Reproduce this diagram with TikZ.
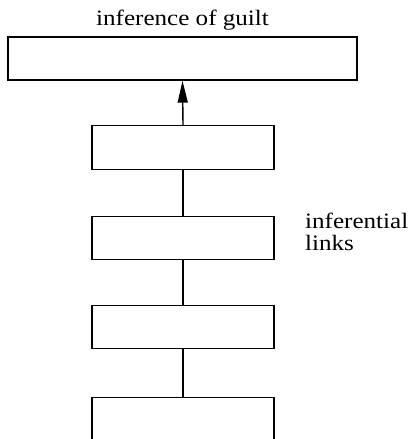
\documentclass[tikz,border=0pt]{standalone}
\usepackage{fontspec}
\setmainfont{Liberation Serif}[FakeStretch=1.14]
\usetikzlibrary{arrows.meta}
\begin{document}
\begin{tikzpicture}[x=1pt,y=-1pt,
  boxstyle/.style={draw,line width=1.4pt,rectangle,inner sep=0pt},
  smallbox/.style={boxstyle,minimum width=182pt,minimum height=43.5pt},
  lbl/.style={font=\fontsize{22}{22}\selectfont,inner sep=0pt},
  link/.style={line width=1.4pt}]
\useasboundingbox (0,0) rectangle (413,439);
\node[boxstyle,minimum width=349pt,minimum height=43pt] (top) at (182.5,58.5) {};
\node[lbl,anchor=base] (title) at (182.5,25) {inference of guilt};
\node[smallbox] (b1) at (183,147.5) {};
\node[smallbox] (b2) at (183,238) {};
\node[smallbox] (b3) at (183,327) {};
\node[smallbox] (b4) at (183,419.5) {};
\node[lbl,align=left,anchor=base west] (links) at (305,250) {inferential\\links};
\draw[link,-{Triangle[length=22pt,width=10pt]}] (b1.north) -- (top.south);
\draw[link] (b1.south) -- (b2.north);
\draw[link] (b2.south) -- (b3.north);
\draw[link] (b3.south) -- (b4.north);
\end{tikzpicture}
\end{document}
